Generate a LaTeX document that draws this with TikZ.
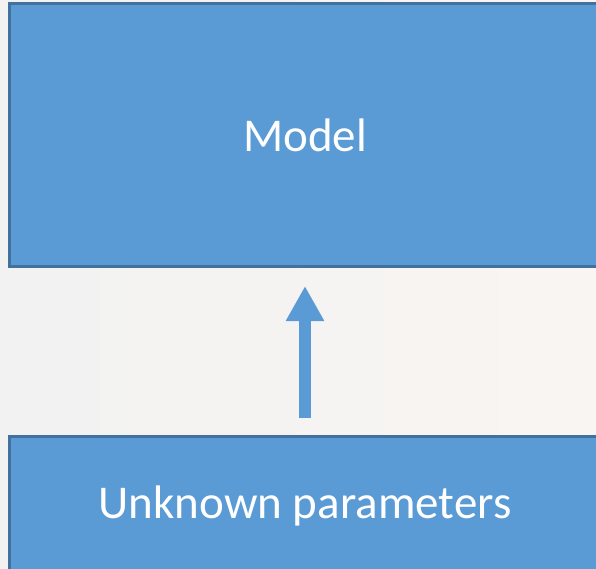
\documentclass[tikz,border=0pt]{standalone}
\usepackage{fontspec}
\setmainfont{Carlito}
\usepackage{xcolor}
\usetikzlibrary{arrows.meta}
\definecolor{bgleft}{HTML}{F2F2F2}
\definecolor{bgright}{HTML}{F9F5F2}
\definecolor{boxfill}{HTML}{5B9BD5}
\definecolor{boxedge}{HTML}{41719C}
\begin{document}
\begin{tikzpicture}[
x = 1pt, y = -1pt,
  block/.style = {draw = boxedge, fill = boxfill, line width = 3pt, text = white,
    font = \fontsize{47}{56}\selectfont, minimum width = 591pt, inner sep = 0pt},
  uparrow/.style = {draw = boxfill, line width = 12pt,
    -{Triangle[length = 35pt, width = 36pt]}}
]
\useasboundingbox (0,0) rectangle (596,569);
\clip (0,0) rectangle (596,569);
\shade[left color = bgleft, right color = bgright] (0,0) rectangle (596,569);
\node[block, minimum height = 263pt] (model) at (305,135) {Model};
\node[block, minimum height = 138pt] (params) at (305,505.5) {Unknown parameters};
% arrow between the two blocks
\draw[uparrow, shorten < = 17.5pt, shorten > = 18pt] (params.north) -- (model.south);
\end{tikzpicture}
\end{document}
